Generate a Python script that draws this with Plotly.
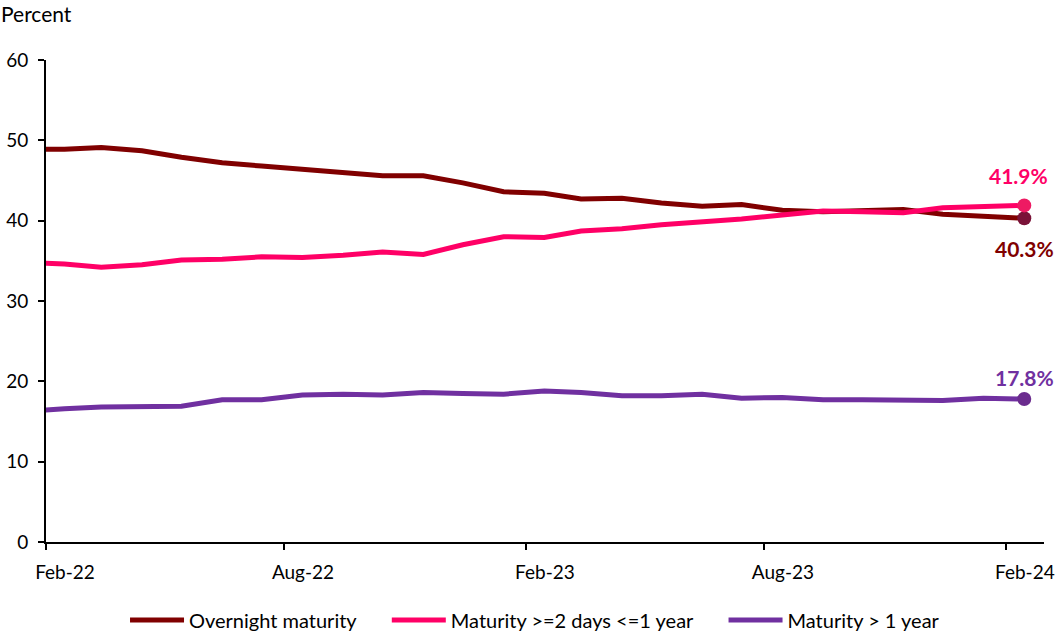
import pandas as pd
import plotly.graph_objects as go

# Monthly observations (Jan-22 .. Feb-24), plotted at mid-month
months = pd.date_range("2022-01-01", periods=26, freq="MS") + pd.Timedelta(days=14)

overnight = [48.9, 48.9, 49.1, 48.7, 47.9, 47.2, 46.8, 46.4, 45.9, 45.6, 45.6, 44.7, 43.6,
             43.4, 42.7, 42.8, 42.2, 41.8, 42.0, 41.3, 41.1, 41.2, 41.4, 40.8, 40.5, 40.3]
short_term = [34.8, 34.6, 34.2, 34.5, 35.1, 35.2, 35.5, 35.4, 35.7, 36.1, 35.8, 37.0, 38.0,
              37.9, 38.7, 39.0, 39.5, 39.8, 40.2, 40.7, 41.2, 41.1, 41.0, 41.6, 41.7, 41.9]
long_term = [16.2, 16.6, 16.8, 16.85, 16.9, 17.7, 17.7, 18.3, 18.4, 18.3, 18.6, 18.5, 18.4,
             18.8, 18.6, 18.2, 18.2, 18.4, 17.9, 18.0, 17.7, 17.7, 17.7, 17.6, 17.9, 17.8]

series_names = ["Overnight maturity", "Maturity >=2 days <=1 year", "Maturity > 1 year"]
line_colors = ["#800000", "#FF0066", "#7030A0"]
marker_colors = ["#7A1238", "#EE1A63", "#6B2C8E"]
label_shift = [-30, 30, 22]
label_xshift = [0, -6, 0]

tick_dates = ["2022-02-01", "2022-08-01", "2023-02-01", "2023-08-01", "2024-02-01"]
tick_text = ["Feb-22", "Aug-22", "Feb-23", "Aug-23", "Feb-24"]

FONT = "Lato, Carlito, Calibri, sans-serif"
GAP = "\u00a0" * 5  # extra room between legend entries

fig = go.Figure()
for i, (name, vals, lc, mc, ys, xs) in enumerate(zip(
        series_names, [overnight, short_term, long_term],
        line_colors, marker_colors, label_shift, label_xshift)):
    fig.add_trace(go.Scatter(
        x=months, y=vals, mode="lines",
        name=name + (GAP if i < len(series_names) - 1 else ""),
        line=dict(color=lc, width=5),
    ))
    fig.add_trace(go.Scatter(
        x=[months[-1]], y=[vals[-1]], mode="markers", showlegend=False,
        marker=dict(color=mc, size=14), cliponaxis=False,
    ))
    fig.add_annotation(
        x=months[-1], y=vals[-1], text=f"<b>{vals[-1]:.1f}%</b>", showarrow=False,
        yshift=ys, xshift=xs, font=dict(family=FONT, size=21, color=lc),
    )

fig.add_annotation(
    xref="paper", yref="paper", x=0, y=1, xanchor="left", yanchor="middle",
    xshift=-47, yshift=47, text="Percent", showarrow=False,
    font=dict(family=FONT, size=21, color="#000000"),
)

fig.update_layout(
    width=1056, height=633,
    margin=dict(l=46, r=12, t=60, b=91, autoexpand=False),
    paper_bgcolor="white", plot_bgcolor="white",
    font=dict(family=FONT, size=19, color="#000000"),
    showlegend=True,
    legend=dict(orientation="h", x=0.49, xanchor="center", y=-0.162, yanchor="middle",
                font=dict(family=FONT, size=20), itemwidth=54),
    xaxis=dict(
        type="date", range=["2022-02-01", "2024-03-01"], automargin=False,
        tickvals=tick_dates, ticktext=tick_text, ticks="outside", ticklen=6,
        tickwidth=1.5, tickcolor="#000000", ticklabelshift=19, ticklabelstandoff=6,
        showline=True, linecolor="#000000", linewidth=2, showgrid=False, zeroline=False,
        tickfont=dict(family=FONT, size=19),
    ),
    yaxis=dict(
        range=[0, 60], tickvals=[0, 10, 20, 30, 40, 50, 60], ticks="outside", ticklen=6,
        tickwidth=1.5, tickcolor="#000000", ticklabelstandoff=6, automargin=False,
        showline=True, linecolor="#000000", linewidth=2, showgrid=False, zeroline=False,
        tickfont=dict(family=FONT, size=19),
    ),
)

fig.write_html("out.html")
